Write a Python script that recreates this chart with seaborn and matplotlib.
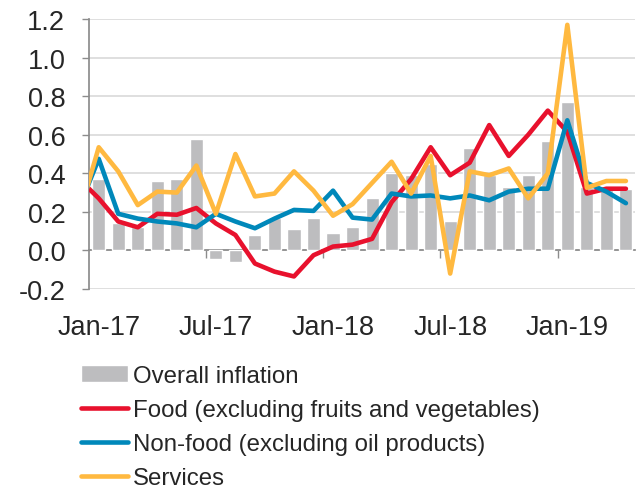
import matplotlib
matplotlib.use('Agg')
import matplotlib.pyplot as plt
import matplotlib.ticker as mticker
import numpy as np
import pandas as pd
import seaborn as sns

# monthly change, %; lines also carry Dec-16 which is clipped at the left edge
months = pd.date_range('2016-12-01', periods=29, freq='MS')
overall = [0.37, 0.14, 0.12, 0.36, 0.37, 0.58, -0.045, -0.06, 0.08, 0.17, 0.11, 0.17,
           0.09, 0.12, 0.27, 0.40, 0.39, 0.45, 0.15, 0.53, 0.39, 0.33, 0.39, 0.57,
           0.77, 0.33, 0.32, 0.32]
food = [0.37, 0.27, 0.15, 0.12, 0.19, 0.185, 0.22, 0.14, 0.08, -0.068, -0.11, -0.135, -0.025,
        0.02, 0.03, 0.06, 0.25, 0.37, 0.535, 0.39, 0.455, 0.65, 0.49, 0.60, 0.725,
        0.615, 0.295, 0.32, 0.32]
nonfood = [0.225, 0.475, 0.19, 0.165, 0.15, 0.14, 0.12, 0.19, 0.15, 0.115, 0.165, 0.21, 0.205,
           0.31, 0.17, 0.16, 0.295, 0.28, 0.285, 0.27, 0.285, 0.26, 0.305, 0.32, 0.32,
           0.675, 0.35, 0.305, 0.245]
services = [0.185, 0.535, 0.41, 0.235, 0.305, 0.30, 0.44, 0.19, 0.50, 0.28, 0.295, 0.41, 0.31,
            0.18, 0.24, 0.35, 0.46, 0.295, 0.49, -0.12, 0.41, 0.39, 0.425, 0.27, 0.40,
            1.17, 0.325, 0.36, 0.36]
tick_labels = ['Jan-17', 'Jul-17', 'Jan-18', 'Jul-18', 'Jan-19']

sns.set_theme(style='white')
plt.rcParams['font.family'] = ['Liberation Sans', 'DejaVu Sans']
plt.rcParams['axes.unicode_minus'] = False

pos = np.arange(-1, len(months) - 1)
bars = pd.DataFrame({'x': pos[1:], 'overall': overall})
lines = pd.DataFrame({'x': pos, 'food': food, 'nonfood': nonfood, 'services': services})

fig = plt.figure(figsize=(6.42, 4.89), dpi=100)
ax = fig.add_axes([0.1386, 0.407, 0.850, 0.552])

sns.barplot(data=bars, x='x', y='overall', native_scale=True, width=0.67,
            color='#BDBDBF', saturation=1, label='Overall inflation', ax=ax, zorder=2)
sns.lineplot(data=lines, x='x', y='food', color='#E8112D', lw=3.3,
             label='Food (excluding fruits and vegetables)', ax=ax, zorder=3)
sns.lineplot(data=lines, x='x', y='nonfood', color='#0088BA', lw=3.3,
             label='Non-food (excluding oil products)', ax=ax, zorder=4)
sns.lineplot(data=lines, x='x', y='services', color='#FFB940', lw=3.3,
             label='Services', ax=ax, zorder=5)

ax.set_xlim(-0.5, 27.45)
ax.set_ylim(-0.2, 1.2)
yt = np.round(np.arange(-0.2, 1.21, 0.2), 1)
ax.set_yticks(yt)
ax.set_yticklabels([f'{v:.1f}' for v in yt])
ax.yaxis.grid(True, color='#D9D9D9', lw=1.2)
ax.set_axisbelow(True)

for s in ['top', 'right']:
    ax.spines[s].set_visible(False)
ax.spines['bottom'].set_position(('data', 0))
ax.spines['bottom'].set_color('#8C8C8C')
ax.spines['left'].set_color('#8C8C8C')
ax.spines['bottom'].set_zorder(1)

ax.xaxis.set_major_locator(mticker.FixedLocator([5.5, 11.5, 17.5, 23.5]))
ax.xaxis.set_major_formatter(mticker.NullFormatter())
ax.xaxis.set_minor_locator(mticker.FixedLocator([0, 6, 12, 18, 24]))
ax.xaxis.set_minor_formatter(mticker.FixedFormatter(tick_labels))
ax.tick_params(axis='x', which='major', direction='out', length=6, width=1, color='#8C8C8C', bottom=True)
ax.tick_params(axis='x', which='minor', length=0, pad=46, labelsize=19.5, bottom=True)
ax.tick_params(axis='y', direction='out', length=5, width=1, color='#8C8C8C', pad=12, labelsize=19.5, left=True)
ax.set_xlabel('')
ax.set_ylabel('')

h, l = ax.get_legend_handles_labels()
ax.get_legend().remove()
# bars first in the legend, as in the original
order = [l.index('Overall inflation')] + [i for i, t in enumerate(l) if t != 'Overall inflation']
fig.legend([h[i] for i in order], [l[i] for i in order], loc='upper left',
           bbox_to_anchor=(81 / 642, 1 - 366 / 489), frameon=False,
           fontsize=17.3, handlelength=1.95, handletextpad=0.2, labelspacing=0.5,
           borderpad=0, borderaxespad=0)

fig.savefig('out.png', dpi=100)
